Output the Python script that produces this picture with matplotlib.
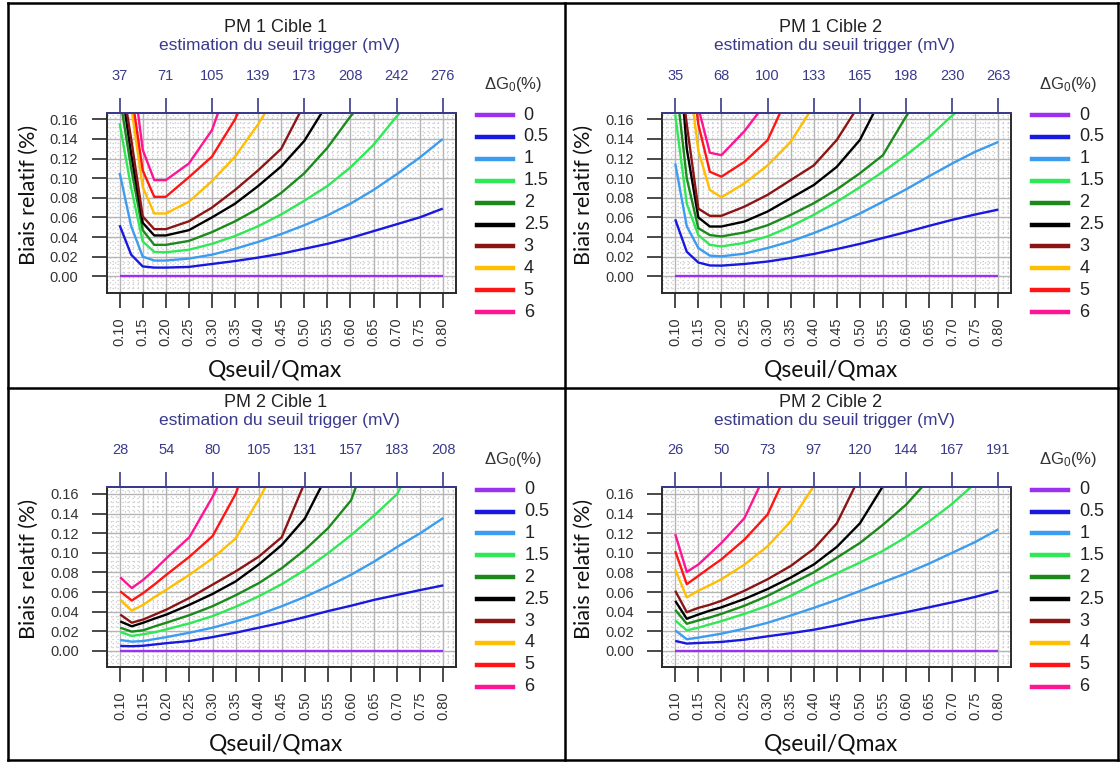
import numpy as np
import matplotlib
matplotlib.use("Agg")
import matplotlib.pyplot as plt
from matplotlib.lines import Line2D
from matplotlib.ticker import AutoMinorLocator

plt.rcParams['font.family'] = ['Liberation Sans', 'DejaVu Sans']
plt.rcParams['mathtext.fontset'] = 'custom'
plt.rcParams['mathtext.rm'] = 'Liberation Sans'
plt.rcParams['mathtext.it'] = 'Liberation Sans:italic'

nan = np.nan

# ---------------- data ----------------
X = [0.10, 0.125, 0.15, 0.175, 0.20, 0.25, 0.30, 0.35, 0.40, 0.45, 0.50,
     0.55, 0.60, 0.65, 0.70, 0.75, 0.80]

DG_LABELS = ['0', '0.5', '1', '1.5', '2', '2.5', '3', '4', '5', '6']
DG_COLORS = ['#9b30f0', '#1818e0', '#3c9cf0', '#30e855', '#1b8a1b',
             '#000000', '#8b1515', '#ffbe00', '#ff1515', '#ff1493']

XTICKS = [0.10, 0.15, 0.20, 0.25, 0.30, 0.35, 0.40, 0.45, 0.50, 0.55,
          0.60, 0.65, 0.70, 0.75, 0.80]
XTICKLABELS = ['0.10', '0.15', '0.20', '0.25', '0.30', '0.35', '0.40', '0.45',
               '0.50', '0.55', '0.60', '0.65', '0.70', '0.75', '0.80']
YTICKS = [0.00, 0.02, 0.04, 0.06, 0.08, 0.10, 0.12, 0.14, 0.16]
YTICKLABELS = ['0.00', '0.02', '0.04', '0.06', '0.08', '0.10', '0.12', '0.14', '0.16']
TOP_POS = [0.10, 0.20, 0.30, 0.40, 0.50, 0.60, 0.70, 0.80]

TITLES = ['PM 1 Cible 1', 'PM 1 Cible 2', 'PM 2 Cible 1', 'PM 2 Cible 2']
TOP_LABELS = [
    ['37', '71', '105', '139', '173', '208', '242', '276'],
    ['35', '68', '100', '133', '165', '198', '230', '263'],
    ['28', '54', '80', '105', '131', '157', '183', '208'],
    ['26', '50', '73', '97', '120', '144', '167', '191'],
]

ZERO = [0.0] * 17

# PM 1 Cible 1
p1_05 = [0.052, 0.022, 0.010, 0.0088, 0.0088, 0.0095, 0.0125, 0.0155, 0.019, 0.023, 0.028, 0.033, 0.039, 0.046, 0.053, 0.060, 0.069]
p1_1 = [0.1055, 0.051, 0.020, 0.016, 0.016, 0.018, 0.022, 0.028, 0.035, 0.043, 0.052, 0.062, 0.074, 0.088, 0.104, 0.121, 0.140]
p1_15 = [0.156, 0.090, 0.0355, 0.0248, 0.0244, 0.027, 0.033, 0.041, 0.051, 0.063, 0.077, 0.092, 0.111, 0.134, 0.163, 0.187, nan]
p1_2 = [0.184, 0.110, 0.047, 0.032, 0.032, 0.036, 0.045, 0.056, 0.069, 0.085, 0.105, 0.131, 0.163, 0.191, nan, nan, nan]
p1_25 = [0.205, 0.125, 0.0545, 0.0416, 0.0416, 0.047, 0.060, 0.074, 0.092, 0.112, 0.138, 0.176, nan, nan, nan, nan, nan]
p1_3 = [0.213, 0.140, 0.061, 0.048, 0.048, 0.056, 0.070, 0.088, 0.108, 0.130, 0.1755, nan, nan, nan, nan, nan, nan]
p1_4 = [nan, 0.173, 0.091, 0.064, 0.064, 0.076, 0.097, 0.122, 0.155, 0.193, nan, nan, nan, nan, nan, nan, nan]
p1_5 = [nan, 0.189, 0.108, 0.081, 0.081, 0.101, 0.122, 0.160, 0.213, nan, nan, nan, nan, nan, nan, nan, nan]
p1_6 = [nan, 0.2225, 0.129, 0.098, 0.098, 0.115, 0.149, 0.216, nan, nan, nan, nan, nan, nan, nan, nan, nan]

# PM 1 Cible 2
p2_05 = [0.058, 0.025, 0.014, 0.011, 0.0108, 0.0125, 0.015, 0.0186, 0.0227, 0.0277, 0.033, 0.039, 0.045, 0.0514, 0.0575, 0.063, 0.068]
p2_1 = [0.115, 0.051, 0.0288, 0.021, 0.0203, 0.023, 0.0288, 0.0355, 0.044, 0.0534, 0.064, 0.076, 0.0886, 0.102, 0.115, 0.127, 0.137]
p2_15 = [0.165, 0.074, 0.042, 0.032, 0.0304, 0.034, 0.0406, 0.0507, 0.0626, 0.076, 0.0907, 0.1066, 0.1235, 0.142, 0.164, 0.184, nan]
p2_2 = [0.204, 0.100, 0.049, 0.042, 0.0406, 0.0447, 0.052, 0.0626, 0.0744, 0.0886, 0.105, 0.1235, 0.163, 0.200, nan, nan, nan]
p2_25 = [0.280, 0.130, 0.060, 0.0507, 0.0507, 0.0558, 0.066, 0.0795, 0.093, 0.1116, 0.139, 0.185, nan, nan, nan, nan, nan]
p2_3 = [0.250, 0.155, 0.069, 0.0616, 0.0616, 0.071, 0.083, 0.098, 0.113, 0.139, 0.176, nan, nan, nan, nan, nan, nan]
p2_4 = [nan, 0.224, 0.128, 0.088, 0.0805, 0.0947, 0.113, 0.137, 0.174, nan, nan, nan, nan, nan, nan, nan, nan]
p2_5 = [nan, 0.250, 0.155, 0.1066, 0.1015, 0.1167, 0.1387, 0.190, nan, nan, nan, nan, nan, nan, nan, nan, nan]
p2_6 = [nan, nan, 0.172, 0.126, 0.1235, 0.148, 0.179, nan, nan, nan, nan, nan, nan, nan, nan, nan, nan]

# PM 2 Cible 1
p3_05 = [0.0050, 0.0047, 0.0052, 0.0065, 0.0078, 0.010, 0.014, 0.0185, 0.0236, 0.0287, 0.0344, 0.0405, 0.046, 0.052, 0.057, 0.062, 0.0668]
p3_1 = [0.011, 0.0094, 0.010, 0.012, 0.014, 0.0185, 0.0236, 0.030, 0.037, 0.0455, 0.055, 0.0658, 0.0776, 0.091, 0.106, 0.120, 0.1356]
p3_15 = [0.0192, 0.0152, 0.0169, 0.019, 0.0219, 0.028, 0.0354, 0.0449, 0.0556, 0.068, 0.0826, 0.0995, 0.118, 0.138, 0.160, 0.206, nan]
p3_2 = [0.0236, 0.0196, 0.021, 0.025, 0.0287, 0.0364, 0.0455, 0.0567, 0.069, 0.0843, 0.103, 0.125, 0.1535, 0.218, nan, nan, nan]
p3_25 = [0.030, 0.025, 0.0287, 0.033, 0.037, 0.047, 0.058, 0.0708, 0.088, 0.108, 0.135, 0.181, nan, nan, nan, nan, nan]
p3_3 = [0.037, 0.0287, 0.032, 0.037, 0.042, 0.054, 0.0675, 0.081, 0.096, 0.116, 0.172, nan, nan, nan, nan, nan, nan]
p3_4 = [0.052, 0.041, 0.047, 0.055, 0.0624, 0.0776, 0.0944, 0.1147, 0.1545, 0.197, nan, nan, nan, nan, nan, nan, nan]
p3_5 = [0.0607, 0.0513, 0.059, 0.068, 0.0776, 0.096, 0.117, 0.160, 0.224, nan, nan, nan, nan, nan, nan, nan, nan]
p3_6 = [0.075, 0.064, 0.0725, 0.083, 0.0944, 0.116, 0.157, 0.204, nan, nan, nan, nan, nan, nan, nan, nan, nan]

# PM 2 Cible 2
p4_05 = [0.0101, 0.0074, 0.008, 0.0085, 0.0091, 0.0114, 0.0148, 0.018, 0.0215, 0.026, 0.031, 0.035, 0.0394, 0.0444, 0.0495, 0.055, 0.0613]
p4_1 = [0.0209, 0.0118, 0.0135, 0.0155, 0.0175, 0.0226, 0.0286, 0.036, 0.0438, 0.052, 0.061, 0.070, 0.079, 0.089, 0.100, 0.111, 0.124]
p4_15 = [0.031, 0.0209, 0.0236, 0.027, 0.0303, 0.0377, 0.046, 0.056, 0.068, 0.079, 0.090, 0.102, 0.116, 0.132, 0.150, 0.171, nan]
p4_2 = [0.0418, 0.0276, 0.031, 0.034, 0.0377, 0.046, 0.056, 0.068, 0.080, 0.095, 0.110, 0.1286, 0.149, 0.175, nan, nan, nan]
p4_25 = [0.051, 0.0327, 0.037, 0.041, 0.0444, 0.0529, 0.063, 0.0747, 0.088, 0.106, 0.130, 0.168, nan, nan, nan, nan, nan]
p4_3 = [0.0613, 0.0394, 0.0438, 0.047, 0.051, 0.0613, 0.073, 0.0865, 0.104, 0.130, 0.178, nan, nan, nan, nan, nan, nan]
p4_4 = [0.083, 0.0545, 0.0613, 0.067, 0.073, 0.088, 0.1067, 0.132, 0.168, nan, nan, nan, nan, nan, nan, nan, nan]
p4_5 = [0.1017, 0.068, 0.0764, 0.085, 0.0933, 0.1135, 0.139, 0.190, nan, nan, nan, nan, nan, nan, nan, nan, nan]
p4_6 = [0.119, 0.0805, 0.088, 0.099, 0.110, 0.1354, 0.185, nan, nan, nan, nan, nan, nan, nan, nan, nan, nan]

SERIES = [
    [ZERO, p1_05, p1_1, p1_15, p1_2, p1_25, p1_3, p1_4, p1_5, p1_6],
    [ZERO, p2_05, p2_1, p2_15, p2_2, p2_25, p2_3, p2_4, p2_5, p2_6],
    [ZERO, p3_05, p3_1, p3_15, p3_2, p3_25, p3_3, p3_4, p3_5, p3_6],
    [ZERO, p4_05, p4_1, p4_15, p4_2, p4_25, p4_3, p4_4, p4_5, p4_6],
]

# ---------------- layout ----------------
W, H = 1120, 762
fig = plt.figure(figsize=(W / 100, H / 100), dpi=100)
fig.patch.set_facecolor('white')


def fx(x):
    return x / W


def fy(y):
    return 1 - y / H


NAVY = '#3a3a8c'
DARK = '#2a2a2a'
AXW, AXH = 349, 180
PANEL_POS = [(106.7, 112.7), (662.3, 112.7), (107.3, 487.3), (662.3, 487.3)]

for k in range(4):
    L, T = PANEL_POS[k]
    ax = fig.add_axes([fx(L), fy(T + AXH), AXW / W, AXH / H])
    ax.set_xlim(0.072, 0.828)
    ax.set_ylim(-0.0168, 0.1668)
    ax.set_axisbelow(True)

    for vals, col in zip(SERIES[k], DG_COLORS):
        ax.plot(X, vals, color=col, lw=1.7, solid_joinstyle='round',
                solid_capstyle='butt', zorder=3)

    ax.set_xticks(XTICKS)
    ax.set_xticklabels(XTICKLABELS, rotation=90)
    ax.set_yticks(YTICKS)
    ax.set_yticklabels(YTICKLABELS)
    ax.xaxis.set_minor_locator(AutoMinorLocator(5))
    ax.yaxis.set_minor_locator(AutoMinorLocator(5))
    ax.grid(which='major', color='#b4b4b4', lw=1.0, ls='-')
    ax.grid(which='minor', color='#c4c4c4', lw=0.9, ls=(0, (1, 3)))
    ax.tick_params(which='minor', length=0)
    ax.tick_params(axis='both', which='major', direction='out', length=10.5,
                   width=1.2, color=DARK, labelsize=10.5, labelcolor='#333333')
    ax.tick_params(axis='x', pad=7)
    ax.tick_params(axis='y', pad=10)
    for s in ['left', 'right', 'bottom']:
        ax.spines[s].set_color(DARK)
        ax.spines[s].set_linewidth(1.4)
    ax.spines['top'].set_color(NAVY)
    ax.spines['top'].set_linewidth(1.4)

    axt = ax.twiny()
    axt.set_xlim(ax.get_xlim())
    axt.set_xticks(TOP_POS)
    axt.set_xticklabels(TOP_LABELS[k])
    axt.tick_params(axis='x', direction='out', length=10.5, width=1.2,
                    color=NAVY, labelcolor=NAVY, labelsize=10.5, pad=11)
    axt.spines['top'].set_color(NAVY)
    axt.spines['top'].set_linewidth(1.4)
    for s in ['left', 'right', 'bottom']:
        axt.spines[s].set_visible(False)

    cx = L + AXW / 2
    fig.text(fx(cx - 6), fy(T - 85), TITLES[k], ha='center', va='center',
             fontsize=13, color='#222222')
    fig.text(fx(cx - 2), fy(T - 67), 'estimation du seuil trigger (mV)',
             ha='center', va='center', fontsize=12.5, color=NAVY)
    fig.text(fx(L - 78), fy(T + 82), 'Biais relatif (%)', rotation=90,
             ha='center', va='center', fontsize=15.5, color='#111111',
             family='Lato')
    fig.text(fx(cx - 6), fy(T + AXH + 77), 'Qseuil/Qmax', ha='center',
             va='center', fontsize=16.5, color='#111111', family='Lato')

    # legend
    R = L + AXW
    fig.text(fx(R + 57), fy(T - 28), r'$\Delta$G$_0$(%)', ha='center',
             va='center', fontsize=12, color='#333333')
    for i, (lab, col) in enumerate(zip(DG_LABELS, DG_COLORS)):
        yy = T + 2.3 + i * 21.9
        fig.add_artist(Line2D([fx(R + 21), fx(R + 57)], [fy(yy), fy(yy)],
                              color=col, lw=3.2, transform=fig.transFigure))
        fig.text(fx(R + 68), fy(yy), lab, ha='left', va='center',
                 fontsize=13, color='#222222')

# panel separators / outer frame
def fline(x0, y0, x1, y1):
    fig.add_artist(Line2D([fx(x0), fx(x1)], [fy(y0), fy(y1)], color='black',
                          lw=1.8, transform=fig.transFigure))

fline(8, 3, 1118, 3)
fline(8, 760, 1118, 760)
fline(8, 3, 8, 760)
fline(1118, 3, 1118, 760)
fline(565, 3, 565, 760)
fline(8, 388, 1118, 388)

fig.savefig('out.png', dpi=100)
